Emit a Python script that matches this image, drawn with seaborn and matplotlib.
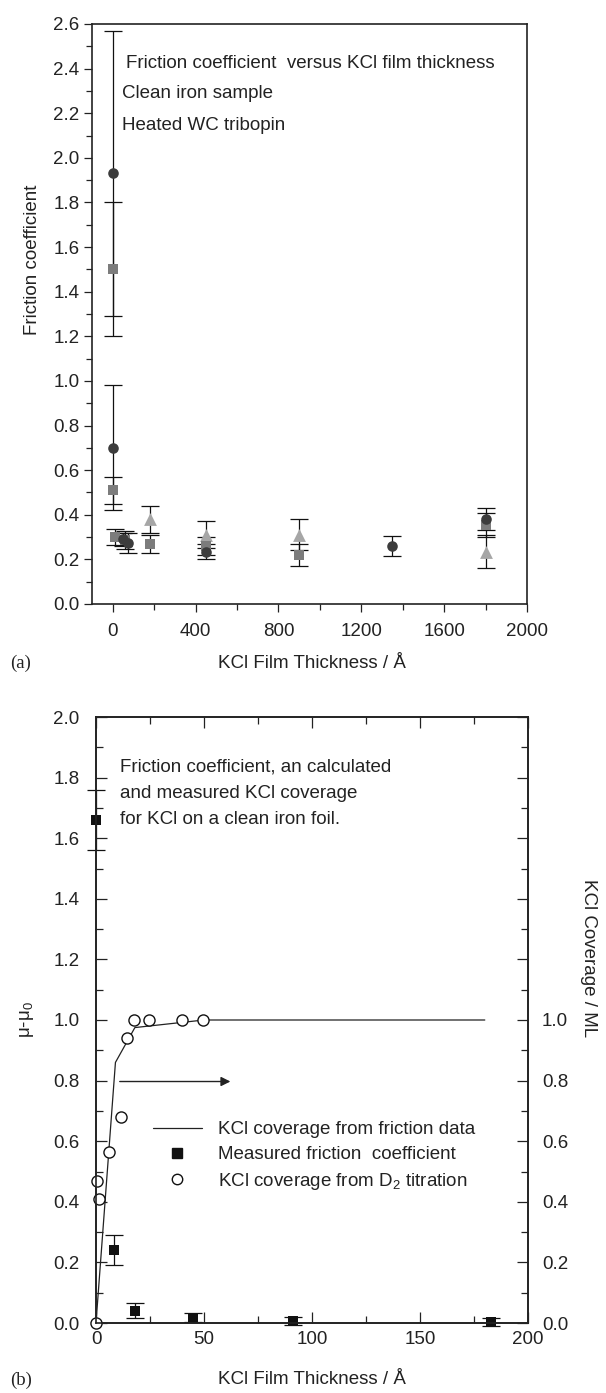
import numpy as np
import pandas as pd
import matplotlib
matplotlib.use("Agg")
import matplotlib.pyplot as plt
import seaborn as sns
from matplotlib.lines import Line2D
from matplotlib.ticker import MultipleLocator, FuncFormatter

# ---------------- data: panel (a) ----------------
circ_x = [0, 0, 50, 75, 450, 1350, 1800]
circ_y = [1.93, 0.70, 0.29, 0.275, 0.235, 0.26, 0.38]
circ_e = [0.64, 0.28, 0.03, 0.045, 0.035, 0.045, 0.05]

sq_x = [0, 0, 10, 60, 180, 450, 900, 1800]
sq_y = [1.50, 0.51, 0.30, 0.285, 0.27, 0.26, 0.22, 0.355]
sq_e = [0.30, 0.06, 0.035, 0.04, 0.04, 0.04, 0.05, 0.055]

tri_x = [180, 450, 900, 1800]
tri_y = [0.38, 0.31, 0.31, 0.235]
tri_e = [0.06, 0.06, 0.07, 0.075]

# ---------------- data: panel (b) ----------------
fric_x = [0, 8.5, 18, 45, 91, 183]
fric_y = [1.66, 0.24, 0.04, 0.018, 0.008, 0.004]
fric_e = [0.10, 0.05, 0.025, 0.015, 0.013, 0.013]

d2_x = [0, 0.5, 1.5, 6, 11.5, 14.5, 17.5, 24.5, 40, 49.5]
d2_y = [0.0, 0.47, 0.41, 0.565, 0.68, 0.94, 1.0, 1.0, 1.0, 1.0]

cov_x = [0, 9, 18, 50, 180]
cov_y = [0.0, 0.86, 0.975, 1.0, 1.0]

W, H = 606, 1393
sns.set_theme(style="ticks")
plt.rcParams['font.family'] = ['Liberation Sans', 'DejaVu Sans']
plt.rcParams['mathtext.fontset'] = 'custom'
plt.rcParams['mathtext.rm'] = 'Liberation Sans'
plt.rcParams['mathtext.it'] = 'Liberation Sans'
FS = 13.5
TC = '#222222'

fig = plt.figure(figsize=(W / 100, H / 100), dpi=100)

def fx(px):
    return px / W

def fy(py):
    return 1 - py / H

# ================= panel (a) =================
axa = fig.add_axes([fx(92), fy(604), (527 - 92) / W, (604 - 24) / H])
dfa = pd.concat([
    pd.DataFrame({"x": circ_x, "y": circ_y, "s": "circ"}),
    pd.DataFrame({"x": sq_x, "y": sq_y, "s": "sq"}),
    pd.DataFrame({"x": tri_x, "y": tri_y, "s": "tri"}),
])
for xs, ys, es in [(circ_x, circ_y, circ_e), (sq_x, sq_y, sq_e), (tri_x, tri_y, tri_e)]:
    axa.errorbar(xs, ys, yerr=es, fmt='none', ecolor='#111111', elinewidth=0.9,
                 capsize=6.5, capthick=0.9, zorder=2)
sns.scatterplot(data=dfa[dfa.s == "tri"], x="x", y="y", marker="^", s=85,
                color="#a6a6a6", edgecolor="#a6a6a6", linewidth=0, ax=axa, zorder=3, legend=False)
sns.scatterplot(data=dfa[dfa.s == "sq"], x="x", y="y", marker="s", s=50,
                color="#7c7c7c", edgecolor="#7c7c7c", linewidth=0, ax=axa, zorder=4, legend=False)
sns.scatterplot(data=dfa[dfa.s == "circ"], x="x", y="y", marker="o", s=58,
                color="#3c3c3c", edgecolor="#3c3c3c", linewidth=0, ax=axa, zorder=5, legend=False)

axa.set_xlim(-100, 2000)
axa.set_ylim(0, 2.6)
axa.xaxis.set_major_locator(MultipleLocator(400))
axa.xaxis.set_minor_locator(MultipleLocator(200))
axa.yaxis.set_major_locator(MultipleLocator(0.2))
axa.yaxis.set_minor_locator(MultipleLocator(0.1))
axa.yaxis.set_major_formatter(FuncFormatter(lambda v, p: f"{v:.1f}"))
axa.tick_params(which='both', direction='out', labelsize=FS, width=0.9, colors=TC)
axa.tick_params(which='major', length=6)
axa.tick_params(which='minor', length=4)
axa.tick_params(axis='x', which='major', pad=8)
axa.tick_params(axis='y', which='major', pad=3)
for sp in axa.spines.values():
    sp.set_linewidth(1.2)
    sp.set_color(TC)
axa.set_xlabel("")
axa.set_ylabel("")

fig.text(fx(126), fy(63), "Friction coefficient  versus KCl film thickness", fontsize=FS, va='center', ha='left', color=TC)
fig.text(fx(122), fy(94), "Clean iron sample", fontsize=FS, va='center', ha='left', color=TC)
fig.text(fx(122), fy(126), "Heated WC tribopin", fontsize=FS, va='center', ha='left', color=TC)
fig.text(fx(33), fy(260), "Friction coefficient", fontsize=FS, rotation=90, va='center', ha='center', color=TC)
fig.text(fx(312), fy(663), "KCl Film Thickness / Å", fontsize=FS, va='center', ha='center', color=TC)
fig.text(fx(10), fy(663), "(a)", fontsize=FS, va='center', ha='left', family='Liberation Serif', color=TC)

# ================= panel (b) =================
axb = fig.add_axes([fx(96), fy(1323), (528 - 96) / W, (1323 - 717) / H])
dfb_f = pd.DataFrame({"x": fric_x, "y": fric_y})
dfb_d = pd.DataFrame({"x": d2_x, "y": d2_y})
dfb_c = pd.DataFrame({"x": cov_x, "y": cov_y})

sns.lineplot(data=dfb_c, x="x", y="y", color=TC, linewidth=0.9, ax=axb, zorder=2, sort=False)
axb.errorbar(fric_x, fric_y, yerr=fric_e, fmt='none', ecolor='#111111', elinewidth=0.9,
             capsize=6.5, capthick=0.9, zorder=3, clip_on=False)
sns.scatterplot(data=dfb_f, x="x", y="y", marker="s", s=58, color="#111111",
                edgecolor="#111111", linewidth=0, ax=axb, zorder=4, clip_on=False, legend=False)
sns.scatterplot(data=dfb_d, x="x", y="y", marker="o", s=64, color="white",
                edgecolor="#111111", linewidth=1.0, ax=axb, zorder=5, clip_on=False, legend=False)

axb.annotate("", xy=(63.5, 0.797), xytext=(9.7, 0.797),
             arrowprops=dict(arrowstyle='-|>', color=TC, lw=1.0, mutation_scale=14))

axb.set_xlim(0, 200)
axb.set_ylim(0, 2.0)
axb.xaxis.set_major_locator(MultipleLocator(50))
axb.xaxis.set_minor_locator(MultipleLocator(25))
axb.yaxis.set_major_locator(MultipleLocator(0.2))
axb.yaxis.set_minor_locator(MultipleLocator(0.1))
axb.yaxis.set_major_formatter(FuncFormatter(lambda v, p: f"{v:.1f}"))
axb.tick_params(which='both', direction='in', top=True, labelsize=FS, width=0.9, colors=TC)
axb.tick_params(which='major', length=8)
axb.tick_params(which='minor', length=5)
axb.tick_params(axis='y', which='major', pad=12)
axb.tick_params(axis='x', which='major', pad=6)
for sp in axb.spines.values():
    sp.set_linewidth(1.2)
    sp.set_color(TC)
axb.set_xlabel("")
axb.set_ylabel("")

axr = axb.twinx()
axr.set_ylim(0, 2.0)
axr.yaxis.set_major_locator(MultipleLocator(0.2))
axr.yaxis.set_minor_locator(MultipleLocator(0.1))
axr.yaxis.set_major_formatter(FuncFormatter(lambda v, p: f"{v:.1f}" if v <= 1.001 else ""))
axr.tick_params(which='both', direction='in', labelsize=FS, width=0.9, colors=TC)
axr.tick_params(which='major', length=8, pad=10)
axr.tick_params(which='minor', length=5)
for sp in axr.spines.values():
    sp.set_linewidth(1.2)
    sp.set_color(TC)

handles = [
    Line2D([], [], color=TC, lw=0.9),
    Line2D([], [], marker='s', color='#111111', ls='none', ms=7.5),
    Line2D([], [], marker='o', mfc='white', mec='#111111', mew=1.0, ls='none', ms=7.5),
]
labels = ["KCl coverage from friction data",
          "Measured friction  coefficient",
          "KCl coverage from D$_2$ titration"]
fig.legend(handles, labels, loc='upper left', bbox_to_anchor=(fx(153), fy(1121)),
           frameon=False, fontsize=FS, handlelength=2.6, handletextpad=0.85,
           labelspacing=0.42, borderpad=0, borderaxespad=0, labelcolor=TC)

fig.text(fx(120), fy(767), "Friction coefficient, an calculated", fontsize=FS, va='center', ha='left', color=TC)
fig.text(fx(120), fy(793), "and measured KCl coverage", fontsize=FS, va='center', ha='left', color=TC)
fig.text(fx(120), fy(819), "for KCl on a clean iron foil.", fontsize=FS, va='center', ha='left', color=TC)

fig.text(fx(27), fy(1020), "μ-μ$_0$", fontsize=FS, rotation=90, va='center', ha='center', color=TC)
fig.text(fx(588), fy(958), "KCl Coverage / ML", fontsize=FS, rotation=-90, va='center', ha='center', color=TC)
fig.text(fx(312), fy(1380), "KCl Film Thickness / Å", fontsize=FS, va='center', ha='center', color=TC)
fig.text(fx(10), fy(1380), "(b)", fontsize=FS, va='center', ha='left', family='Liberation Serif', color=TC)

fig.savefig("out.png", dpi=100)
